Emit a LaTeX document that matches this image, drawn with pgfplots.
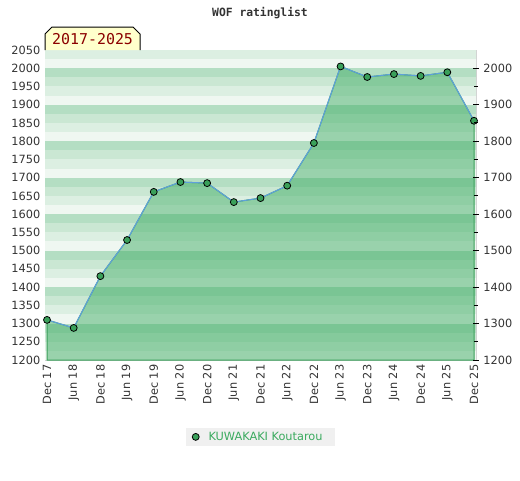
\documentclass[border=0pt]{standalone}
\usepackage{pgfplots}
\pgfplotsset{compat=1.18}
\usepackage{fontspec}
\setmainfont{DejaVu Sans}
\newfontfamily\monofont{DejaVu Sans Mono}
\definecolor{bandA}{RGB}{180,222,195}
\definecolor{bandB}{RGB}{202,231,211}
\definecolor{bandC}{RGB}{220,239,226}
\definecolor{bandD}{RGB}{239,247,241}
\definecolor{areaG}{RGB}{58,171,96}
\definecolor{markG}{RGB}{58,160,90}
\definecolor{lineB}{RGB}{95,160,220}
\definecolor{legG}{RGB}{58,170,94}
\definecolor{boxY}{RGB}{255,255,204}
\definecolor{darkR}{RGB}{139,0,0}
\begin{document}
\begin{tikzpicture}
\path[use as bounding box] (0,0) rectangle (390pt,360pt);
\begin{axis}[
  at={(33.75pt,90pt)}, anchor=south west,
  scale only axis, width=323.25pt, height=232.5pt,
  xmin=-0.075, xmax=16.075, ymin=1200, ymax=2050,
  axis line style={draw=black!18, line width=0.75pt},
  xtick={0,...,16},
  xticklabels={Dec 17,Jun 18,Dec 18,Jun 19,Dec 19,Jun 20,Dec 20,Jun 21,Dec 21,Jun 22,Dec 22,Jun 23,Dec 23,Jun 24,Dec 24,Jun 25,Dec 25},
  xticklabel style={rotate=90, anchor=east, font=\fontsize{8.5}{10}\selectfont, text=black!80, xshift=0pt},
  ytick={1200,1250,...,2050},
  yticklabel style={font=\fontsize{8.5}{10}\selectfont, text=black!80},
  /pgf/number format/assume math mode=true,
  /pgf/number format/1000 sep={},
  major tick length=0pt,
  tick style={draw=none},
  legend style={at={(0.499,-0.248)}, anchor=center, fill=black!6, draw=none,
    font=\fontsize{8.5}{10}\selectfont, text=legG, inner xsep=5pt, inner ysep=1pt,
    nodes={inner xsep=4pt},
    /tikz/every odd column/.append style={column sep=3pt}},
  legend cell align=left,
]
\pgfplotsinvokeforeach{1300,1400,...,2100}{
  \fill[bandA] (axis cs:-1,#1-25) rectangle (axis cs:17,#1);
  \fill[bandB] (axis cs:-1,#1-50) rectangle (axis cs:17,#1-25);
  \fill[bandC] (axis cs:-1,#1-75) rectangle (axis cs:17,#1-50);
  \fill[bandD] (axis cs:-1,#1-100) rectangle (axis cs:17,#1-75);
}
\addplot[draw=markG, line width=0.75pt, fill=areaG, fill opacity=0.475, forget plot] coordinates {
(0,1310) (1,1288) (2,1430) (3,1529) (4,1661) (5,1688) (6,1685) (7,1633) (8,1644) (9,1678) (10,1795) (11,2005) (12,1976) (13,1984) (14,1979) (15,1989) (16,1856)
} \closedcycle;
\addplot[draw=lineB, line width=0.8pt, mark=*, mark size=2.6pt, mark options={fill=markG, draw=black, line width=0.6pt}, forget plot] coordinates {
(0,1310) (1,1288) (2,1430) (3,1529) (4,1661) (5,1688) (6,1685) (7,1633) (8,1644) (9,1678) (10,1795) (11,2005) (12,1976) (13,1984) (14,1979) (15,1989) (16,1856)
};
\addlegendimage{only marks, mark=*, mark size=2.6pt, mark options={fill=markG, draw=black, line width=0.6pt}}
\addlegendentry{KUWAKAKI Koutarou}
\end{axis}
\begin{axis}[
  at={(33.75pt,90pt)}, anchor=south west,
  scale only axis, width=323.25pt, height=232.5pt,
  xmin=-0.075, xmax=16.075, ymin=1200, ymax=2050,
  axis x line=none, axis y line*=right,
  axis line style={draw=none},
  ytick={1200,1300,...,2000},
  minor ytick={1250,1350,...,1950},
  yticklabel style={font=\fontsize{8.5}{10}\selectfont, text=black!80},
  /pgf/number format/assume math mode=true,
  /pgf/number format/1000 sep={},
  tick align=center,
  major tick length=4pt, minor tick length=2.5pt,
  tick style={draw=black, line width=0.75pt},
]
\addplot[draw=none] coordinates {(0,1200)};
\end{axis}
\node[font=\monofont\bfseries\fontsize{8.5}{10}\selectfont, text=black!80] at (195pt,350.25pt) {WOF ratinglist};
\filldraw[fill=boxY, draw=black, line width=0.75pt] (33.75pt,322.5pt) -- (33.75pt,334.5pt) -- (39pt,339.75pt) -- (99.75pt,339.75pt) -- (105pt,334.5pt) -- (105pt,322.5pt);
\node[font=\monofont\fontsize{11.2}{13}\selectfont, text=darkR] at (69.4pt,330.8pt) {2017-2025};
\end{tikzpicture}
\end{document}
